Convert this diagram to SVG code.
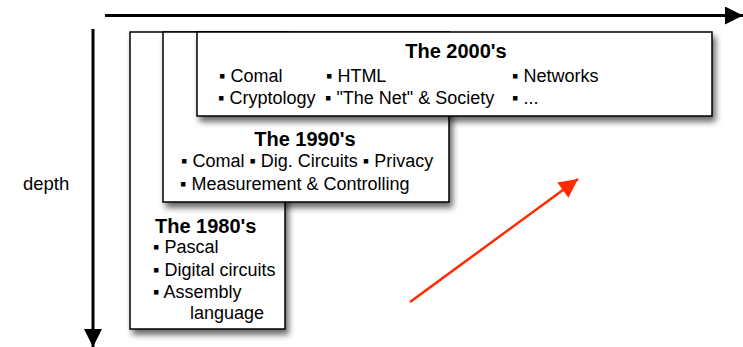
<svg xmlns="http://www.w3.org/2000/svg" width="743" height="347" viewBox="0 0 743 347">
  <defs>
    <filter id="shadow" x="-10%" y="-10%" width="130%" height="140%">
      <feGaussianBlur in="SourceAlpha" stdDeviation="3"/>
      <feOffset dx="3" dy="5" result="blur"/>
      <feComponentTransfer><feFuncA type="linear" slope="0.6"/></feComponentTransfer>
      <feMerge><feMergeNode/><feMergeNode in="SourceGraphic"/></feMerge>
    </filter>
    <marker id="blackHead" viewBox="0 0 10 10" refX="10" refY="5" markerWidth="6.5" markerHeight="6" markerUnits="strokeWidth" orient="auto">
      <path d="M0,0 L10,5 L0,10 Z" fill="#000"/>
    </marker>
    <marker id="redHead" viewBox="0 0 10 10" refX="10" refY="5" markerWidth="9" markerHeight="7.5" markerUnits="strokeWidth" orient="auto">
      <path d="M0,0 L10,5 L0,10 Z" fill="#ff2a00"/>
    </marker>
  </defs>
  <style>
    .box { fill: #fff; stroke: #000; stroke-width: 1.5; filter: url(#shadow); }
    .title { font-family: "Liberation Sans", Arial, sans-serif; font-size: 20px; font-weight: bold; fill: #000; }
    .item { font-family: "Liberation Sans", Arial, sans-serif; font-size: 18px; fill: #000; }
    .axis { stroke: #000; stroke-width: 3; fill: none; }
  </style>

  <!-- axes and the red direction arrow -->
  <g id="connectors">
    <line class="axis" x1="105" y1="15.5" x2="743" y2="15.5" marker-end="url(#blackHead)"/>
    <line class="axis" x1="93" y1="29" x2="93" y2="347" marker-end="url(#blackHead)"/>
    <line x1="410" y1="302" x2="578" y2="179" stroke="#ff2a00" stroke-width="2.5" marker-end="url(#redHead)"/>
  </g>

  <g id="depth-label">
    <text class="item" x="23" y="190" style="font-size:18.5px">depth</text>
  </g>

  <g id="node-1980s">
    <rect class="box" x="130" y="32" width="155" height="297"/>
    <text class="title" x="155" y="233">The 1980's</text>
    <text class="item" x="153" y="253">▪ Pascal</text>
    <text class="item" x="153" y="276">▪ Digital circuits</text>
    <text class="item" x="153" y="298">▪ Assembly</text>
    <text class="item" x="190" y="319">language</text>
  </g>

  <g id="node-1990s">
    <rect class="box" x="163" y="32" width="286" height="170"/>
    <text class="title" x="305" y="146" text-anchor="middle">The 1990's</text>
    <text class="item" x="181" y="167">▪ Comal ▪ Dig. Circuits ▪ Privacy</text>
    <text class="item" x="180" y="190">▪ Measurement &amp; Controlling</text>
  </g>

  <g id="node-2000s">
    <rect class="box" x="197" y="32" width="515" height="84"/>
    <text class="title" x="456" y="58" text-anchor="middle">The 2000's</text>
    <text class="item" x="219" y="82">▪ Comal</text>
    <text class="item" x="326" y="82">▪ HTML</text>
    <text class="item" x="512" y="82">▪ Networks</text>
    <text class="item" x="218" y="104">▪ Cryptology</text>
    <text class="item" x="325" y="104">▪ "The Net" &amp; Society</text>
    <text class="item" x="512" y="104">▪ ...</text>
  </g>
</svg>
